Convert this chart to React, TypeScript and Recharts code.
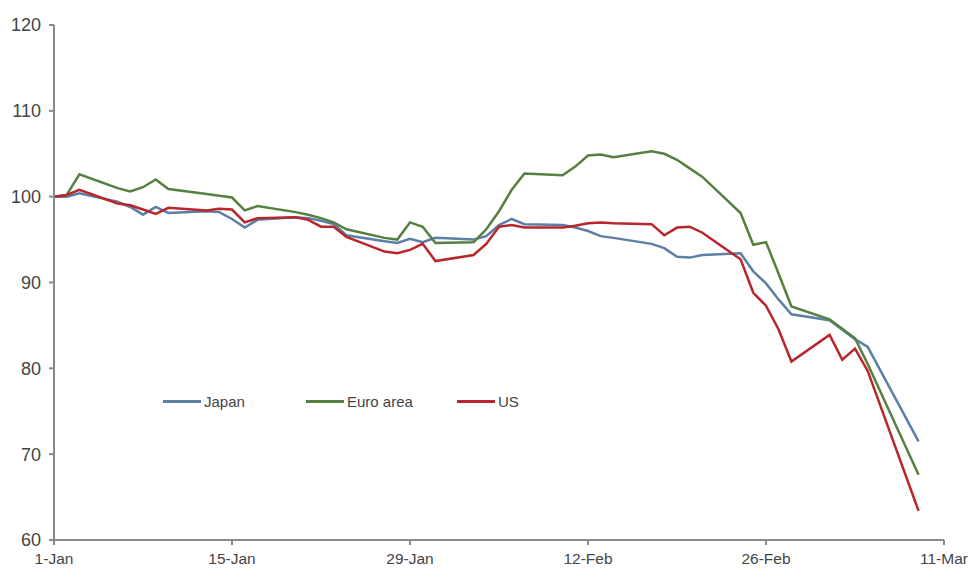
import React from "react";
import { LineChart, Line, XAxis, YAxis } from "recharts";

const days = [0, 1, 2, 5, 6, 7, 8, 9, 12, 13, 14, 15, 16, 19, 20, 21, 22, 23, 26, 27, 28, 29, 30, 33, 34, 35, 36, 37, 40, 41, 42, 43, 44, 47, 48, 49, 50, 51, 54, 55, 56, 57, 58, 61, 62, 63, 64, 68];

const japan = [100, 100.0, 100.4, 99.4, 98.8, 97.9, 98.8, 98.1, 98.3, 98.2, 97.4, 96.4, 97.3, 97.6, 97.5, 97.2, 96.8, 95.5, 94.8, 94.6, 95.1, 94.7, 95.2, 95.0, 95.4, 96.7, 97.4, 96.8, 96.7, 96.4, 96.0, 95.4, 95.2, 94.5, 94.0, 93.0, 92.9, 93.2, 93.4, 91.3, 89.9, 88.0, 86.3, 85.6, 84.5, 83.4, 82.5, 71.5];

const euroArea = [100, 100.2, 102.6, 101.0, 100.6, 101.1, 102.0, 100.9, 100.3, 100.1, 99.9, 98.4, 98.9, 98.2, 97.9, 97.5, 97.0, 96.2, 95.2, 95.0, 97.0, 96.5, 94.6, 94.7, 96.2, 98.3, 100.8, 102.7, 102.5, 103.5, 104.8, 104.9, 104.6, 105.3, 105.0, 104.3, 103.3, 102.3, 98.1, 94.4, 94.7, 91.0, 87.2, 85.7, 84.6, 83.5, 80.5, 67.6];

const us = [100, 100.2, 100.8, 99.2, 99.0, 98.5, 98.0, 98.7, 98.4, 98.6, 98.5, 97.0, 97.5, 97.6, 97.3, 96.5, 96.5, 95.3, 93.6, 93.4, 93.8, 94.5, 92.5, 93.2, 94.5, 96.5, 96.7, 96.4, 96.4, 96.6, 96.9, 97.0, 96.9, 96.8, 95.5, 96.4, 96.5, 95.8, 92.7, 88.8, 87.3, 84.5, 80.8, 83.9, 81.0, 82.3, 79.7, 63.4];

const xTickDays = [0, 14, 28, 42, 56, 70];
const xTickLabels = ["1-Jan", "15-Jan", "29-Jan", "12-Feb", "26-Feb", "11-Mar"];
const yTicks = [60, 70, 80, 90, 100, 110, 120];

const seriesNames = ["Japan", "Euro area", "US"];
const colors = ["#5b7fa6", "#55803f", "#b8262b"];
const legendLeft = [163, 306, 457];

const data = days.map((d, i) => ({
  day: d,
  japan: japan[i],
  euro: euroArea[i],
  us: us[i],
}));

const FONT = "'Liberation Sans', Arial, sans-serif";

export default function App() {
  return (
    <div style={{ position: "absolute", left: 0, top: 0, width: 977, height: 575, background: "#fff" }}>
      <LineChart width={977} height={575} data={data} margin={{ top: 25, right: 33, bottom: 0, left: 0 }}>
        <XAxis
          dataKey="day"
          type="number"
          domain={[0, 70]}
          ticks={xTickDays}
          tickFormatter={(v: number) => xTickLabels[xTickDays.indexOf(v)]}
          height={35}
          stroke="#8a8a8a"
          strokeWidth={2}
          tickSize={5}
          tickMargin={8}
          tick={{ fill: "#444", fontSize: 15.5, fontFamily: FONT }}
          interval={0}
        />
        <YAxis
          type="number"
          domain={[60, 120]}
          ticks={yTicks}
          width={54}
          stroke="#8a8a8a"
          strokeWidth={2}
          tickSize={5}
          tickMargin={8}
          tick={{ fill: "#444", fontSize: 18, fontFamily: FONT }}
          interval={0}
        />
        <Line dataKey="japan" name="Japan" stroke={colors[0]} strokeWidth={2.5} dot={false} isAnimationActive={false} />
        <Line dataKey="euro" name="Euro area" stroke={colors[1]} strokeWidth={2.5} dot={false} isAnimationActive={false} />
        <Line dataKey="us" name="US" stroke={colors[2]} strokeWidth={2.5} dot={false} isAnimationActive={false} />
      </LineChart>
      {seriesNames.map((n, i) => (
        <div
          key={n}
          style={{
            position: "absolute",
            left: legendLeft[i],
            top: 391,
            display: "flex",
            alignItems: "center",
            whiteSpace: "nowrap",
            fontFamily: FONT,
            fontSize: 15,
            color: "#444",
            height: 20,
          }}
        >
          <span style={{ display: "inline-block", width: 38, height: 3, background: colors[i], marginRight: 3 }} />
          <span>{n}</span>
        </div>
      ))}
    </div>
  );
}
